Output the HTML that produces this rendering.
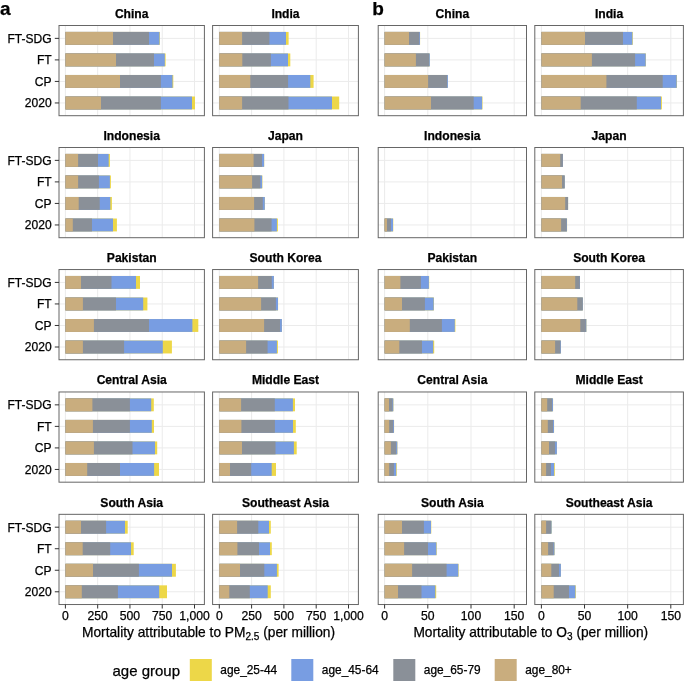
<!DOCTYPE html><html><head><meta charset="utf-8"><style>html,body{margin:0;padding:0;background:#fff;}svg{display:block;will-change:transform;}text{font-family:"Liberation Sans",sans-serif;fill:#000000;stroke:#000000;stroke-width:0.25px;}</style></head><body>
<svg width="685" height="682" viewBox="0 0 685 682">
<rect x="0" y="0" width="685" height="682" fill="#fff"/>
<path d="M65.4 25.5V115.7M97.68 25.5V115.7M129.95 25.5V115.7M162.22 25.5V115.7M194.5 25.5V115.7M59 38.37H204.4M59 59.9H204.4M59 81.43H204.4M59 102.96H204.4" stroke="#EBEBEB" stroke-width="1" fill="none"/>
<rect x="65.4" y="31.92" width="94.5" height="12.9" fill="#EDD748"/>
<rect x="65.4" y="31.92" width="94.1" height="12.9" fill="#789DE2"/>
<rect x="65.4" y="31.92" width="83.6" height="12.9" fill="#8A9098"/>
<rect x="65.4" y="31.92" width="47.6" height="12.9" fill="#C9AD7E"/>
<rect x="65.4" y="53.45" width="100.2" height="12.9" fill="#EDD748"/>
<rect x="65.4" y="53.45" width="99.4" height="12.9" fill="#789DE2"/>
<rect x="65.4" y="53.45" width="88.6" height="12.9" fill="#8A9098"/>
<rect x="65.4" y="53.45" width="50.6" height="12.9" fill="#C9AD7E"/>
<rect x="65.4" y="74.98" width="107.9" height="12.9" fill="#EDD748"/>
<rect x="65.4" y="74.98" width="107.1" height="12.9" fill="#789DE2"/>
<rect x="65.4" y="74.98" width="95.5" height="12.9" fill="#8A9098"/>
<rect x="65.4" y="74.98" width="54.6" height="12.9" fill="#C9AD7E"/>
<rect x="65.4" y="96.51" width="129.6" height="12.9" fill="#EDD748"/>
<rect x="65.4" y="96.51" width="126.6" height="12.9" fill="#789DE2"/>
<rect x="65.4" y="96.51" width="95.5" height="12.9" fill="#8A9098"/>
<rect x="65.4" y="96.51" width="35.6" height="12.9" fill="#C9AD7E"/>
<rect x="59" y="25.5" width="145.4" height="90.2" fill="none" stroke="#666666" stroke-width="1"/>
<text x="131.7" y="17.8" text-anchor="middle" font-weight="bold" stroke-width="0" font-size="12.1">China</text>
<path d="M54.8 38.37H59" stroke="#333333" stroke-width="1"/>
<text x="51.6" y="42.67" text-anchor="end" font-size="12.05">FT-SDG</text>
<path d="M54.8 59.9H59" stroke="#333333" stroke-width="1"/>
<text x="51.6" y="64.2" text-anchor="end" font-size="12.05">FT</text>
<path d="M54.8 81.43H59" stroke="#333333" stroke-width="1"/>
<text x="51.6" y="85.73" text-anchor="end" font-size="12.05">CP</text>
<path d="M54.8 102.96H59" stroke="#333333" stroke-width="1"/>
<text x="51.6" y="107.26" text-anchor="end" font-size="12.05">2020</text>
<path d="M219.3 25.5V115.7M251.6 25.5V115.7M283.9 25.5V115.7M316.2 25.5V115.7M348.5 25.5V115.7M212.6 38.37H358.4M212.6 59.9H358.4M212.6 81.43H358.4M212.6 102.96H358.4" stroke="#EBEBEB" stroke-width="1" fill="none"/>
<rect x="219.3" y="31.92" width="69.3" height="12.9" fill="#EDD748"/>
<rect x="219.3" y="31.92" width="66.7" height="12.9" fill="#789DE2"/>
<rect x="219.3" y="31.92" width="50.1" height="12.9" fill="#8A9098"/>
<rect x="219.3" y="31.92" width="22.8" height="12.9" fill="#C9AD7E"/>
<rect x="219.3" y="53.45" width="71" height="12.9" fill="#EDD748"/>
<rect x="219.3" y="53.45" width="68.7" height="12.9" fill="#789DE2"/>
<rect x="219.3" y="53.45" width="51.6" height="12.9" fill="#8A9098"/>
<rect x="219.3" y="53.45" width="23" height="12.9" fill="#C9AD7E"/>
<rect x="219.3" y="74.98" width="94.3" height="12.9" fill="#EDD748"/>
<rect x="219.3" y="74.98" width="91" height="12.9" fill="#789DE2"/>
<rect x="219.3" y="74.98" width="68.8" height="12.9" fill="#8A9098"/>
<rect x="219.3" y="74.98" width="31" height="12.9" fill="#C9AD7E"/>
<rect x="219.3" y="96.51" width="119.9" height="12.9" fill="#EDD748"/>
<rect x="219.3" y="96.51" width="112.7" height="12.9" fill="#789DE2"/>
<rect x="219.3" y="96.51" width="69.2" height="12.9" fill="#8A9098"/>
<rect x="219.3" y="96.51" width="22.8" height="12.9" fill="#C9AD7E"/>
<rect x="212.6" y="25.5" width="145.8" height="90.2" fill="none" stroke="#666666" stroke-width="1"/>
<text x="285.5" y="17.8" text-anchor="middle" font-weight="bold" stroke-width="0" font-size="12.1">India</text>
<path d="M65.4 147.5V237.7M97.68 147.5V237.7M129.95 147.5V237.7M162.22 147.5V237.7M194.5 147.5V237.7M59 160.37H204.4M59 181.9H204.4M59 203.43H204.4M59 224.96H204.4" stroke="#EBEBEB" stroke-width="1" fill="none"/>
<rect x="65.4" y="153.92" width="44.5" height="12.9" fill="#EDD748"/>
<rect x="65.4" y="153.92" width="43.3" height="12.9" fill="#789DE2"/>
<rect x="65.4" y="153.92" width="32.6" height="12.9" fill="#8A9098"/>
<rect x="65.4" y="153.92" width="12.7" height="12.9" fill="#C9AD7E"/>
<rect x="65.4" y="175.45" width="45.5" height="12.9" fill="#EDD748"/>
<rect x="65.4" y="175.45" width="44.5" height="12.9" fill="#789DE2"/>
<rect x="65.4" y="175.45" width="33.5" height="12.9" fill="#8A9098"/>
<rect x="65.4" y="175.45" width="12.7" height="12.9" fill="#C9AD7E"/>
<rect x="65.4" y="196.98" width="46.5" height="12.9" fill="#EDD748"/>
<rect x="65.4" y="196.98" width="44.9" height="12.9" fill="#789DE2"/>
<rect x="65.4" y="196.98" width="34.3" height="12.9" fill="#8A9098"/>
<rect x="65.4" y="196.98" width="13.3" height="12.9" fill="#C9AD7E"/>
<rect x="65.4" y="218.51" width="51.5" height="12.9" fill="#EDD748"/>
<rect x="65.4" y="218.51" width="47.6" height="12.9" fill="#789DE2"/>
<rect x="65.4" y="218.51" width="26.6" height="12.9" fill="#8A9098"/>
<rect x="65.4" y="218.51" width="7.4" height="12.9" fill="#C9AD7E"/>
<rect x="59" y="147.5" width="145.4" height="90.2" fill="none" stroke="#666666" stroke-width="1"/>
<text x="131.7" y="139.8" text-anchor="middle" font-weight="bold" stroke-width="0" font-size="12.1">Indonesia</text>
<path d="M54.8 160.37H59" stroke="#333333" stroke-width="1"/>
<text x="51.6" y="164.67" text-anchor="end" font-size="12.05">FT-SDG</text>
<path d="M54.8 181.9H59" stroke="#333333" stroke-width="1"/>
<text x="51.6" y="186.2" text-anchor="end" font-size="12.05">FT</text>
<path d="M54.8 203.43H59" stroke="#333333" stroke-width="1"/>
<text x="51.6" y="207.73" text-anchor="end" font-size="12.05">CP</text>
<path d="M54.8 224.96H59" stroke="#333333" stroke-width="1"/>
<text x="51.6" y="229.26" text-anchor="end" font-size="12.05">2020</text>
<path d="M219.3 147.5V237.7M251.6 147.5V237.7M283.9 147.5V237.7M316.2 147.5V237.7M348.5 147.5V237.7M212.6 160.37H358.4M212.6 181.9H358.4M212.6 203.43H358.4M212.6 224.96H358.4" stroke="#EBEBEB" stroke-width="1" fill="none"/>
<rect x="219.3" y="153.92" width="44.9" height="12.9" fill="#EDD748"/>
<rect x="219.3" y="153.92" width="44.8" height="12.9" fill="#789DE2"/>
<rect x="219.3" y="153.92" width="42.7" height="12.9" fill="#8A9098"/>
<rect x="219.3" y="153.92" width="34.3" height="12.9" fill="#C9AD7E"/>
<rect x="219.3" y="175.45" width="43.1" height="12.9" fill="#EDD748"/>
<rect x="219.3" y="175.45" width="42.8" height="12.9" fill="#789DE2"/>
<rect x="219.3" y="175.45" width="41.1" height="12.9" fill="#8A9098"/>
<rect x="219.3" y="175.45" width="32.8" height="12.9" fill="#C9AD7E"/>
<rect x="219.3" y="196.98" width="45.6" height="12.9" fill="#EDD748"/>
<rect x="219.3" y="196.98" width="45.5" height="12.9" fill="#789DE2"/>
<rect x="219.3" y="196.98" width="43.5" height="12.9" fill="#8A9098"/>
<rect x="219.3" y="196.98" width="34.8" height="12.9" fill="#C9AD7E"/>
<rect x="219.3" y="218.51" width="58.6" height="12.9" fill="#EDD748"/>
<rect x="219.3" y="218.51" width="57.6" height="12.9" fill="#789DE2"/>
<rect x="219.3" y="218.51" width="52.3" height="12.9" fill="#8A9098"/>
<rect x="219.3" y="218.51" width="35.1" height="12.9" fill="#C9AD7E"/>
<rect x="212.6" y="147.5" width="145.8" height="90.2" fill="none" stroke="#666666" stroke-width="1"/>
<text x="285.5" y="139.8" text-anchor="middle" font-weight="bold" stroke-width="0" font-size="12.1">Japan</text>
<path d="M65.4 269.55V359.75M97.68 269.55V359.75M129.95 269.55V359.75M162.22 269.55V359.75M194.5 269.55V359.75M59 282.42H204.4M59 303.95H204.4M59 325.48H204.4M59 347.01H204.4" stroke="#EBEBEB" stroke-width="1" fill="none"/>
<rect x="65.4" y="275.97" width="74.6" height="12.9" fill="#EDD748"/>
<rect x="65.4" y="275.97" width="70.6" height="12.9" fill="#789DE2"/>
<rect x="65.4" y="275.97" width="46.1" height="12.9" fill="#8A9098"/>
<rect x="65.4" y="275.97" width="15.6" height="12.9" fill="#C9AD7E"/>
<rect x="65.4" y="297.5" width="82" height="12.9" fill="#EDD748"/>
<rect x="65.4" y="297.5" width="77.8" height="12.9" fill="#789DE2"/>
<rect x="65.4" y="297.5" width="50.6" height="12.9" fill="#8A9098"/>
<rect x="65.4" y="297.5" width="17.5" height="12.9" fill="#C9AD7E"/>
<rect x="65.4" y="319.03" width="132.9" height="12.9" fill="#EDD748"/>
<rect x="65.4" y="319.03" width="127" height="12.9" fill="#789DE2"/>
<rect x="65.4" y="319.03" width="83.6" height="12.9" fill="#8A9098"/>
<rect x="65.4" y="319.03" width="28.5" height="12.9" fill="#C9AD7E"/>
<rect x="65.4" y="340.56" width="106.5" height="12.9" fill="#EDD748"/>
<rect x="65.4" y="340.56" width="97.4" height="12.9" fill="#789DE2"/>
<rect x="65.4" y="340.56" width="58.7" height="12.9" fill="#8A9098"/>
<rect x="65.4" y="340.56" width="17.5" height="12.9" fill="#C9AD7E"/>
<rect x="59" y="269.55" width="145.4" height="90.2" fill="none" stroke="#666666" stroke-width="1"/>
<text x="131.7" y="261.85" text-anchor="middle" font-weight="bold" stroke-width="0" font-size="12.1">Pakistan</text>
<path d="M54.8 282.42H59" stroke="#333333" stroke-width="1"/>
<text x="51.6" y="286.72" text-anchor="end" font-size="12.05">FT-SDG</text>
<path d="M54.8 303.95H59" stroke="#333333" stroke-width="1"/>
<text x="51.6" y="308.25" text-anchor="end" font-size="12.05">FT</text>
<path d="M54.8 325.48H59" stroke="#333333" stroke-width="1"/>
<text x="51.6" y="329.78" text-anchor="end" font-size="12.05">CP</text>
<path d="M54.8 347.01H59" stroke="#333333" stroke-width="1"/>
<text x="51.6" y="351.31" text-anchor="end" font-size="12.05">2020</text>
<path d="M219.3 269.55V359.75M251.6 269.55V359.75M283.9 269.55V359.75M316.2 269.55V359.75M348.5 269.55V359.75M212.6 282.42H358.4M212.6 303.95H358.4M212.6 325.48H358.4M212.6 347.01H358.4" stroke="#EBEBEB" stroke-width="1" fill="none"/>
<rect x="219.3" y="275.97" width="54.7" height="12.9" fill="#EDD748"/>
<rect x="219.3" y="275.97" width="54.6" height="12.9" fill="#789DE2"/>
<rect x="219.3" y="275.97" width="52.5" height="12.9" fill="#8A9098"/>
<rect x="219.3" y="275.97" width="38.8" height="12.9" fill="#C9AD7E"/>
<rect x="219.3" y="297.5" width="58.8" height="12.9" fill="#EDD748"/>
<rect x="219.3" y="297.5" width="58.7" height="12.9" fill="#789DE2"/>
<rect x="219.3" y="297.5" width="56.6" height="12.9" fill="#8A9098"/>
<rect x="219.3" y="297.5" width="41.8" height="12.9" fill="#C9AD7E"/>
<rect x="219.3" y="319.03" width="62.7" height="12.9" fill="#EDD748"/>
<rect x="219.3" y="319.03" width="62.6" height="12.9" fill="#789DE2"/>
<rect x="219.3" y="319.03" width="60.8" height="12.9" fill="#8A9098"/>
<rect x="219.3" y="319.03" width="44.8" height="12.9" fill="#C9AD7E"/>
<rect x="219.3" y="340.56" width="58.6" height="12.9" fill="#EDD748"/>
<rect x="219.3" y="340.56" width="57.6" height="12.9" fill="#789DE2"/>
<rect x="219.3" y="340.56" width="48.3" height="12.9" fill="#8A9098"/>
<rect x="219.3" y="340.56" width="26.8" height="12.9" fill="#C9AD7E"/>
<rect x="212.6" y="269.55" width="145.8" height="90.2" fill="none" stroke="#666666" stroke-width="1"/>
<text x="285.5" y="261.85" text-anchor="middle" font-weight="bold" stroke-width="0" font-size="12.1">South Korea</text>
<path d="M65.4 391.98V482.18M97.68 391.98V482.18M129.95 391.98V482.18M162.22 391.98V482.18M194.5 391.98V482.18M59 404.85H204.4M59 426.38H204.4M59 447.91H204.4M59 469.44H204.4" stroke="#EBEBEB" stroke-width="1" fill="none"/>
<rect x="65.4" y="398.4" width="88.4" height="12.9" fill="#EDD748"/>
<rect x="65.4" y="398.4" width="85.8" height="12.9" fill="#789DE2"/>
<rect x="65.4" y="398.4" width="64.5" height="12.9" fill="#8A9098"/>
<rect x="65.4" y="398.4" width="27" height="12.9" fill="#C9AD7E"/>
<rect x="65.4" y="419.93" width="88.6" height="12.9" fill="#EDD748"/>
<rect x="65.4" y="419.93" width="86.4" height="12.9" fill="#789DE2"/>
<rect x="65.4" y="419.93" width="64.5" height="12.9" fill="#8A9098"/>
<rect x="65.4" y="419.93" width="27.5" height="12.9" fill="#C9AD7E"/>
<rect x="65.4" y="441.46" width="91.8" height="12.9" fill="#EDD748"/>
<rect x="65.4" y="441.46" width="89.6" height="12.9" fill="#789DE2"/>
<rect x="65.4" y="441.46" width="67.1" height="12.9" fill="#8A9098"/>
<rect x="65.4" y="441.46" width="28.5" height="12.9" fill="#C9AD7E"/>
<rect x="65.4" y="462.99" width="93.6" height="12.9" fill="#EDD748"/>
<rect x="65.4" y="462.99" width="88.7" height="12.9" fill="#789DE2"/>
<rect x="65.4" y="462.99" width="54.6" height="12.9" fill="#8A9098"/>
<rect x="65.4" y="462.99" width="21.8" height="12.9" fill="#C9AD7E"/>
<rect x="59" y="391.98" width="145.4" height="90.2" fill="none" stroke="#666666" stroke-width="1"/>
<text x="131.7" y="384.28" text-anchor="middle" font-weight="bold" stroke-width="0" font-size="12.1">Central Asia</text>
<path d="M54.8 404.85H59" stroke="#333333" stroke-width="1"/>
<text x="51.6" y="409.15" text-anchor="end" font-size="12.05">FT-SDG</text>
<path d="M54.8 426.38H59" stroke="#333333" stroke-width="1"/>
<text x="51.6" y="430.68" text-anchor="end" font-size="12.05">FT</text>
<path d="M54.8 447.91H59" stroke="#333333" stroke-width="1"/>
<text x="51.6" y="452.21" text-anchor="end" font-size="12.05">CP</text>
<path d="M54.8 469.44H59" stroke="#333333" stroke-width="1"/>
<text x="51.6" y="473.74" text-anchor="end" font-size="12.05">2020</text>
<path d="M219.3 391.98V482.18M251.6 391.98V482.18M283.9 391.98V482.18M316.2 391.98V482.18M348.5 391.98V482.18M212.6 404.85H358.4M212.6 426.38H358.4M212.6 447.91H358.4M212.6 469.44H358.4" stroke="#EBEBEB" stroke-width="1" fill="none"/>
<rect x="219.3" y="398.4" width="75.7" height="12.9" fill="#EDD748"/>
<rect x="219.3" y="398.4" width="73.6" height="12.9" fill="#789DE2"/>
<rect x="219.3" y="398.4" width="55.5" height="12.9" fill="#8A9098"/>
<rect x="219.3" y="398.4" width="21.8" height="12.9" fill="#C9AD7E"/>
<rect x="219.3" y="419.93" width="76.5" height="12.9" fill="#EDD748"/>
<rect x="219.3" y="419.93" width="73.7" height="12.9" fill="#789DE2"/>
<rect x="219.3" y="419.93" width="55.6" height="12.9" fill="#8A9098"/>
<rect x="219.3" y="419.93" width="22.1" height="12.9" fill="#C9AD7E"/>
<rect x="219.3" y="441.46" width="77.4" height="12.9" fill="#EDD748"/>
<rect x="219.3" y="441.46" width="74.6" height="12.9" fill="#789DE2"/>
<rect x="219.3" y="441.46" width="56.2" height="12.9" fill="#8A9098"/>
<rect x="219.3" y="441.46" width="22.7" height="12.9" fill="#C9AD7E"/>
<rect x="219.3" y="462.99" width="56.7" height="12.9" fill="#EDD748"/>
<rect x="219.3" y="462.99" width="52.4" height="12.9" fill="#789DE2"/>
<rect x="219.3" y="462.99" width="31.9" height="12.9" fill="#8A9098"/>
<rect x="219.3" y="462.99" width="10.7" height="12.9" fill="#C9AD7E"/>
<rect x="212.6" y="391.98" width="145.8" height="90.2" fill="none" stroke="#666666" stroke-width="1"/>
<text x="285.5" y="384.28" text-anchor="middle" font-weight="bold" stroke-width="0" font-size="12.1">Middle East</text>
<path d="M65.4 514.33V604.53M97.68 514.33V604.53M129.95 514.33V604.53M162.22 514.33V604.53M194.5 514.33V604.53M59 527.2H204.4M59 548.73H204.4M59 570.26H204.4M59 591.79H204.4" stroke="#EBEBEB" stroke-width="1" fill="none"/>
<rect x="65.4" y="520.75" width="62.3" height="12.9" fill="#EDD748"/>
<rect x="65.4" y="520.75" width="59.6" height="12.9" fill="#789DE2"/>
<rect x="65.4" y="520.75" width="40.7" height="12.9" fill="#8A9098"/>
<rect x="65.4" y="520.75" width="15.6" height="12.9" fill="#C9AD7E"/>
<rect x="65.4" y="542.28" width="68.3" height="12.9" fill="#EDD748"/>
<rect x="65.4" y="542.28" width="65.6" height="12.9" fill="#789DE2"/>
<rect x="65.4" y="542.28" width="44.8" height="12.9" fill="#8A9098"/>
<rect x="65.4" y="542.28" width="17.3" height="12.9" fill="#C9AD7E"/>
<rect x="65.4" y="563.81" width="110.5" height="12.9" fill="#EDD748"/>
<rect x="65.4" y="563.81" width="106.6" height="12.9" fill="#789DE2"/>
<rect x="65.4" y="563.81" width="73.5" height="12.9" fill="#8A9098"/>
<rect x="65.4" y="563.81" width="27.6" height="12.9" fill="#C9AD7E"/>
<rect x="65.4" y="585.34" width="101.6" height="12.9" fill="#EDD748"/>
<rect x="65.4" y="585.34" width="93.8" height="12.9" fill="#789DE2"/>
<rect x="65.4" y="585.34" width="52.5" height="12.9" fill="#8A9098"/>
<rect x="65.4" y="585.34" width="16.4" height="12.9" fill="#C9AD7E"/>
<rect x="59" y="514.33" width="145.4" height="90.2" fill="none" stroke="#666666" stroke-width="1"/>
<text x="131.7" y="506.63" text-anchor="middle" font-weight="bold" stroke-width="0" font-size="12.1">South Asia</text>
<path d="M54.8 527.2H59" stroke="#333333" stroke-width="1"/>
<text x="51.6" y="531.5" text-anchor="end" font-size="12.05">FT-SDG</text>
<path d="M54.8 548.73H59" stroke="#333333" stroke-width="1"/>
<text x="51.6" y="553.03" text-anchor="end" font-size="12.05">FT</text>
<path d="M54.8 570.26H59" stroke="#333333" stroke-width="1"/>
<text x="51.6" y="574.56" text-anchor="end" font-size="12.05">CP</text>
<path d="M54.8 591.79H59" stroke="#333333" stroke-width="1"/>
<text x="51.6" y="596.09" text-anchor="end" font-size="12.05">2020</text>
<path d="M65.4 604.53V608.53" stroke="#333333" stroke-width="1"/>
<text x="65.4" y="620.2" text-anchor="middle" font-size="12.2">0</text>
<path d="M97.68 604.53V608.53" stroke="#333333" stroke-width="1"/>
<text x="97.68" y="620.2" text-anchor="middle" font-size="12.2">250</text>
<path d="M129.95 604.53V608.53" stroke="#333333" stroke-width="1"/>
<text x="129.95" y="620.2" text-anchor="middle" font-size="12.2">500</text>
<path d="M162.22 604.53V608.53" stroke="#333333" stroke-width="1"/>
<text x="162.22" y="620.2" text-anchor="middle" font-size="12.2">750</text>
<path d="M194.5 604.53V608.53" stroke="#333333" stroke-width="1"/>
<text x="194.5" y="620.2" text-anchor="middle" font-size="12.2">1,000</text>
<path d="M219.3 514.33V604.53M251.6 514.33V604.53M283.9 514.33V604.53M316.2 514.33V604.53M348.5 514.33V604.53M212.6 527.2H358.4M212.6 548.73H358.4M212.6 570.26H358.4M212.6 591.79H358.4" stroke="#EBEBEB" stroke-width="1" fill="none"/>
<rect x="219.3" y="520.75" width="51.5" height="12.9" fill="#EDD748"/>
<rect x="219.3" y="520.75" width="49.7" height="12.9" fill="#789DE2"/>
<rect x="219.3" y="520.75" width="39" height="12.9" fill="#8A9098"/>
<rect x="219.3" y="520.75" width="17.8" height="12.9" fill="#C9AD7E"/>
<rect x="219.3" y="542.28" width="52.5" height="12.9" fill="#EDD748"/>
<rect x="219.3" y="542.28" width="50.7" height="12.9" fill="#789DE2"/>
<rect x="219.3" y="542.28" width="39.7" height="12.9" fill="#8A9098"/>
<rect x="219.3" y="542.28" width="18.1" height="12.9" fill="#C9AD7E"/>
<rect x="219.3" y="563.81" width="59.3" height="12.9" fill="#EDD748"/>
<rect x="219.3" y="563.81" width="57.6" height="12.9" fill="#789DE2"/>
<rect x="219.3" y="563.81" width="45" height="12.9" fill="#8A9098"/>
<rect x="219.3" y="563.81" width="20.7" height="12.9" fill="#C9AD7E"/>
<rect x="219.3" y="585.34" width="51.5" height="12.9" fill="#EDD748"/>
<rect x="219.3" y="585.34" width="48.4" height="12.9" fill="#789DE2"/>
<rect x="219.3" y="585.34" width="30.5" height="12.9" fill="#8A9098"/>
<rect x="219.3" y="585.34" width="10" height="12.9" fill="#C9AD7E"/>
<rect x="212.6" y="514.33" width="145.8" height="90.2" fill="none" stroke="#666666" stroke-width="1"/>
<text x="285.5" y="506.63" text-anchor="middle" font-weight="bold" stroke-width="0" font-size="12.1">Southeast Asia</text>
<path d="M219.3 604.53V608.53" stroke="#333333" stroke-width="1"/>
<text x="219.3" y="620.2" text-anchor="middle" font-size="12.2">0</text>
<path d="M251.6 604.53V608.53" stroke="#333333" stroke-width="1"/>
<text x="251.6" y="620.2" text-anchor="middle" font-size="12.2">250</text>
<path d="M283.9 604.53V608.53" stroke="#333333" stroke-width="1"/>
<text x="283.9" y="620.2" text-anchor="middle" font-size="12.2">500</text>
<path d="M316.2 604.53V608.53" stroke="#333333" stroke-width="1"/>
<text x="316.2" y="620.2" text-anchor="middle" font-size="12.2">750</text>
<path d="M348.5 604.53V608.53" stroke="#333333" stroke-width="1"/>
<text x="348.5" y="620.2" text-anchor="middle" font-size="12.2">1,000</text>
<path d="M384.6 25.5V115.7M427.8 25.5V115.7M471 25.5V115.7M514.2 25.5V115.7M378.2 38.37H526.5M378.2 59.9H526.5M378.2 81.43H526.5M378.2 102.96H526.5" stroke="#EBEBEB" stroke-width="1" fill="none"/>
<rect x="384.6" y="31.92" width="35.5" height="12.9" fill="#EDD748"/>
<rect x="384.6" y="31.92" width="35.4" height="12.9" fill="#789DE2"/>
<rect x="384.6" y="31.92" width="34.8" height="12.9" fill="#8A9098"/>
<rect x="384.6" y="31.92" width="24.4" height="12.9" fill="#C9AD7E"/>
<rect x="384.6" y="53.45" width="45.3" height="12.9" fill="#EDD748"/>
<rect x="384.6" y="53.45" width="45.2" height="12.9" fill="#789DE2"/>
<rect x="384.6" y="53.45" width="44.4" height="12.9" fill="#8A9098"/>
<rect x="384.6" y="53.45" width="31.3" height="12.9" fill="#C9AD7E"/>
<rect x="384.6" y="74.98" width="63.4" height="12.9" fill="#EDD748"/>
<rect x="384.6" y="74.98" width="63.3" height="12.9" fill="#789DE2"/>
<rect x="384.6" y="74.98" width="62.4" height="12.9" fill="#8A9098"/>
<rect x="384.6" y="74.98" width="43.5" height="12.9" fill="#C9AD7E"/>
<rect x="384.6" y="96.51" width="97.9" height="12.9" fill="#EDD748"/>
<rect x="384.6" y="96.51" width="97.5" height="12.9" fill="#789DE2"/>
<rect x="384.6" y="96.51" width="89.1" height="12.9" fill="#8A9098"/>
<rect x="384.6" y="96.51" width="46.4" height="12.9" fill="#C9AD7E"/>
<rect x="378.2" y="25.5" width="148.3" height="90.2" fill="none" stroke="#666666" stroke-width="1"/>
<text x="452.35" y="17.8" text-anchor="middle" font-weight="bold" stroke-width="0" font-size="12.1">China</text>
<path d="M541.4 25.5V115.7M584.53 25.5V115.7M627.67 25.5V115.7M670.8 25.5V115.7M534.8 38.37H683.4M534.8 59.9H683.4M534.8 81.43H683.4M534.8 102.96H683.4" stroke="#EBEBEB" stroke-width="1" fill="none"/>
<rect x="541.4" y="31.92" width="91.4" height="12.9" fill="#EDD748"/>
<rect x="541.4" y="31.92" width="91" height="12.9" fill="#789DE2"/>
<rect x="541.4" y="31.92" width="81.6" height="12.9" fill="#8A9098"/>
<rect x="541.4" y="31.92" width="43.6" height="12.9" fill="#C9AD7E"/>
<rect x="541.4" y="53.45" width="104.5" height="12.9" fill="#EDD748"/>
<rect x="541.4" y="53.45" width="104.3" height="12.9" fill="#789DE2"/>
<rect x="541.4" y="53.45" width="93.7" height="12.9" fill="#8A9098"/>
<rect x="541.4" y="53.45" width="50.5" height="12.9" fill="#C9AD7E"/>
<rect x="541.4" y="74.98" width="135.6" height="12.9" fill="#EDD748"/>
<rect x="541.4" y="74.98" width="135.3" height="12.9" fill="#789DE2"/>
<rect x="541.4" y="74.98" width="121.3" height="12.9" fill="#8A9098"/>
<rect x="541.4" y="74.98" width="65" height="12.9" fill="#C9AD7E"/>
<rect x="541.4" y="96.51" width="120.5" height="12.9" fill="#EDD748"/>
<rect x="541.4" y="96.51" width="119.6" height="12.9" fill="#789DE2"/>
<rect x="541.4" y="96.51" width="95.4" height="12.9" fill="#8A9098"/>
<rect x="541.4" y="96.51" width="39.3" height="12.9" fill="#C9AD7E"/>
<rect x="534.8" y="25.5" width="148.6" height="90.2" fill="none" stroke="#666666" stroke-width="1"/>
<text x="609.1" y="17.8" text-anchor="middle" font-weight="bold" stroke-width="0" font-size="12.1">India</text>
<path d="M384.6 147.5V237.7M427.8 147.5V237.7M471 147.5V237.7M514.2 147.5V237.7M378.2 160.37H526.5M378.2 181.9H526.5M378.2 203.43H526.5M378.2 224.96H526.5" stroke="#EBEBEB" stroke-width="1" fill="none"/>
<rect x="384.6" y="218.51" width="8.7" height="12.9" fill="#EDD748"/>
<rect x="384.6" y="218.51" width="8.4" height="12.9" fill="#789DE2"/>
<rect x="384.6" y="218.51" width="6.3" height="12.9" fill="#8A9098"/>
<rect x="384.6" y="218.51" width="2.4" height="12.9" fill="#C9AD7E"/>
<rect x="378.2" y="147.5" width="148.3" height="90.2" fill="none" stroke="#666666" stroke-width="1"/>
<text x="452.35" y="139.8" text-anchor="middle" font-weight="bold" stroke-width="0" font-size="12.1">Indonesia</text>
<path d="M541.4 147.5V237.7M584.53 147.5V237.7M627.67 147.5V237.7M670.8 147.5V237.7M534.8 160.37H683.4M534.8 181.9H683.4M534.8 203.43H683.4M534.8 224.96H683.4" stroke="#EBEBEB" stroke-width="1" fill="none"/>
<rect x="541.4" y="153.92" width="21.5" height="12.9" fill="#EDD748"/>
<rect x="541.4" y="153.92" width="21.5" height="12.9" fill="#789DE2"/>
<rect x="541.4" y="153.92" width="21.4" height="12.9" fill="#8A9098"/>
<rect x="541.4" y="153.92" width="18.8" height="12.9" fill="#C9AD7E"/>
<rect x="541.4" y="175.45" width="23.3" height="12.9" fill="#EDD748"/>
<rect x="541.4" y="175.45" width="23.3" height="12.9" fill="#789DE2"/>
<rect x="541.4" y="175.45" width="23.2" height="12.9" fill="#8A9098"/>
<rect x="541.4" y="175.45" width="20.6" height="12.9" fill="#C9AD7E"/>
<rect x="541.4" y="196.98" width="26.7" height="12.9" fill="#EDD748"/>
<rect x="541.4" y="196.98" width="26.7" height="12.9" fill="#789DE2"/>
<rect x="541.4" y="196.98" width="26.6" height="12.9" fill="#8A9098"/>
<rect x="541.4" y="196.98" width="23.8" height="12.9" fill="#C9AD7E"/>
<rect x="541.4" y="218.51" width="25.7" height="12.9" fill="#EDD748"/>
<rect x="541.4" y="218.51" width="25.6" height="12.9" fill="#789DE2"/>
<rect x="541.4" y="218.51" width="25.3" height="12.9" fill="#8A9098"/>
<rect x="541.4" y="218.51" width="19.7" height="12.9" fill="#C9AD7E"/>
<rect x="534.8" y="147.5" width="148.6" height="90.2" fill="none" stroke="#666666" stroke-width="1"/>
<text x="609.1" y="139.8" text-anchor="middle" font-weight="bold" stroke-width="0" font-size="12.1">Japan</text>
<path d="M384.6 269.55V359.75M427.8 269.55V359.75M471 269.55V359.75M514.2 269.55V359.75M378.2 282.42H526.5M378.2 303.95H526.5M378.2 325.48H526.5M378.2 347.01H526.5" stroke="#EBEBEB" stroke-width="1" fill="none"/>
<rect x="384.6" y="275.97" width="44.6" height="12.9" fill="#EDD748"/>
<rect x="384.6" y="275.97" width="44.3" height="12.9" fill="#789DE2"/>
<rect x="384.6" y="275.97" width="36.3" height="12.9" fill="#8A9098"/>
<rect x="384.6" y="275.97" width="15.8" height="12.9" fill="#C9AD7E"/>
<rect x="384.6" y="297.5" width="49.4" height="12.9" fill="#EDD748"/>
<rect x="384.6" y="297.5" width="49.1" height="12.9" fill="#789DE2"/>
<rect x="384.6" y="297.5" width="40.3" height="12.9" fill="#8A9098"/>
<rect x="384.6" y="297.5" width="17.4" height="12.9" fill="#C9AD7E"/>
<rect x="384.6" y="319.03" width="70.8" height="12.9" fill="#EDD748"/>
<rect x="384.6" y="319.03" width="70.2" height="12.9" fill="#789DE2"/>
<rect x="384.6" y="319.03" width="57.3" height="12.9" fill="#8A9098"/>
<rect x="384.6" y="319.03" width="25.2" height="12.9" fill="#C9AD7E"/>
<rect x="384.6" y="340.56" width="49.6" height="12.9" fill="#EDD748"/>
<rect x="384.6" y="340.56" width="48.6" height="12.9" fill="#789DE2"/>
<rect x="384.6" y="340.56" width="37.4" height="12.9" fill="#8A9098"/>
<rect x="384.6" y="340.56" width="14.7" height="12.9" fill="#C9AD7E"/>
<rect x="378.2" y="269.55" width="148.3" height="90.2" fill="none" stroke="#666666" stroke-width="1"/>
<text x="452.35" y="261.85" text-anchor="middle" font-weight="bold" stroke-width="0" font-size="12.1">Pakistan</text>
<path d="M541.4 269.55V359.75M584.53 269.55V359.75M627.67 269.55V359.75M670.8 269.55V359.75M534.8 282.42H683.4M534.8 303.95H683.4M534.8 325.48H683.4M534.8 347.01H683.4" stroke="#EBEBEB" stroke-width="1" fill="none"/>
<rect x="541.4" y="275.97" width="38.6" height="12.9" fill="#EDD748"/>
<rect x="541.4" y="275.97" width="38.6" height="12.9" fill="#789DE2"/>
<rect x="541.4" y="275.97" width="38.4" height="12.9" fill="#8A9098"/>
<rect x="541.4" y="275.97" width="33.8" height="12.9" fill="#C9AD7E"/>
<rect x="541.4" y="297.5" width="41.4" height="12.9" fill="#EDD748"/>
<rect x="541.4" y="297.5" width="41.4" height="12.9" fill="#789DE2"/>
<rect x="541.4" y="297.5" width="41.3" height="12.9" fill="#8A9098"/>
<rect x="541.4" y="297.5" width="35.9" height="12.9" fill="#C9AD7E"/>
<rect x="541.4" y="319.03" width="45" height="12.9" fill="#EDD748"/>
<rect x="541.4" y="319.03" width="45" height="12.9" fill="#789DE2"/>
<rect x="541.4" y="319.03" width="44.4" height="12.9" fill="#8A9098"/>
<rect x="541.4" y="319.03" width="38.9" height="12.9" fill="#C9AD7E"/>
<rect x="541.4" y="340.56" width="19.5" height="12.9" fill="#EDD748"/>
<rect x="541.4" y="340.56" width="19.5" height="12.9" fill="#789DE2"/>
<rect x="541.4" y="340.56" width="19" height="12.9" fill="#8A9098"/>
<rect x="541.4" y="340.56" width="13.7" height="12.9" fill="#C9AD7E"/>
<rect x="534.8" y="269.55" width="148.6" height="90.2" fill="none" stroke="#666666" stroke-width="1"/>
<text x="609.1" y="261.85" text-anchor="middle" font-weight="bold" stroke-width="0" font-size="12.1">South Korea</text>
<path d="M384.6 391.98V482.18M427.8 391.98V482.18M471 391.98V482.18M514.2 391.98V482.18M378.2 404.85H526.5M378.2 426.38H526.5M378.2 447.91H526.5M378.2 469.44H526.5" stroke="#EBEBEB" stroke-width="1" fill="none"/>
<rect x="384.6" y="398.4" width="8.8" height="12.9" fill="#EDD748"/>
<rect x="384.6" y="398.4" width="8.7" height="12.9" fill="#789DE2"/>
<rect x="384.6" y="398.4" width="7.9" height="12.9" fill="#8A9098"/>
<rect x="384.6" y="398.4" width="4.4" height="12.9" fill="#C9AD7E"/>
<rect x="384.6" y="419.93" width="9.5" height="12.9" fill="#EDD748"/>
<rect x="384.6" y="419.93" width="9.4" height="12.9" fill="#789DE2"/>
<rect x="384.6" y="419.93" width="8.7" height="12.9" fill="#8A9098"/>
<rect x="384.6" y="419.93" width="4.6" height="12.9" fill="#C9AD7E"/>
<rect x="384.6" y="441.46" width="12.8" height="12.9" fill="#EDD748"/>
<rect x="384.6" y="441.46" width="12.7" height="12.9" fill="#789DE2"/>
<rect x="384.6" y="441.46" width="11.6" height="12.9" fill="#8A9098"/>
<rect x="384.6" y="441.46" width="6.3" height="12.9" fill="#C9AD7E"/>
<rect x="384.6" y="462.99" width="12.1" height="12.9" fill="#EDD748"/>
<rect x="384.6" y="462.99" width="11.6" height="12.9" fill="#789DE2"/>
<rect x="384.6" y="462.99" width="9.3" height="12.9" fill="#8A9098"/>
<rect x="384.6" y="462.99" width="4.6" height="12.9" fill="#C9AD7E"/>
<rect x="378.2" y="391.98" width="148.3" height="90.2" fill="none" stroke="#666666" stroke-width="1"/>
<text x="452.35" y="384.28" text-anchor="middle" font-weight="bold" stroke-width="0" font-size="12.1">Central Asia</text>
<path d="M541.4 391.98V482.18M584.53 391.98V482.18M627.67 391.98V482.18M670.8 391.98V482.18M534.8 404.85H683.4M534.8 426.38H683.4M534.8 447.91H683.4M534.8 469.44H683.4" stroke="#EBEBEB" stroke-width="1" fill="none"/>
<rect x="541.4" y="398.4" width="11.7" height="12.9" fill="#EDD748"/>
<rect x="541.4" y="398.4" width="11.6" height="12.9" fill="#789DE2"/>
<rect x="541.4" y="398.4" width="10.8" height="12.9" fill="#8A9098"/>
<rect x="541.4" y="398.4" width="5.8" height="12.9" fill="#C9AD7E"/>
<rect x="541.4" y="419.93" width="12.7" height="12.9" fill="#EDD748"/>
<rect x="541.4" y="419.93" width="12.6" height="12.9" fill="#789DE2"/>
<rect x="541.4" y="419.93" width="11.7" height="12.9" fill="#8A9098"/>
<rect x="541.4" y="419.93" width="6.4" height="12.9" fill="#C9AD7E"/>
<rect x="541.4" y="441.46" width="15.6" height="12.9" fill="#EDD748"/>
<rect x="541.4" y="441.46" width="15.5" height="12.9" fill="#789DE2"/>
<rect x="541.4" y="441.46" width="13.7" height="12.9" fill="#8A9098"/>
<rect x="541.4" y="441.46" width="7.6" height="12.9" fill="#C9AD7E"/>
<rect x="541.4" y="462.99" width="13.4" height="12.9" fill="#EDD748"/>
<rect x="541.4" y="462.99" width="12.7" height="12.9" fill="#789DE2"/>
<rect x="541.4" y="462.99" width="9.6" height="12.9" fill="#8A9098"/>
<rect x="541.4" y="462.99" width="4.7" height="12.9" fill="#C9AD7E"/>
<rect x="534.8" y="391.98" width="148.6" height="90.2" fill="none" stroke="#666666" stroke-width="1"/>
<text x="609.1" y="384.28" text-anchor="middle" font-weight="bold" stroke-width="0" font-size="12.1">Middle East</text>
<path d="M384.6 514.33V604.53M427.8 514.33V604.53M471 514.33V604.53M514.2 514.33V604.53M378.2 527.2H526.5M378.2 548.73H526.5M378.2 570.26H526.5M378.2 591.79H526.5" stroke="#EBEBEB" stroke-width="1" fill="none"/>
<rect x="384.6" y="520.75" width="46.7" height="12.9" fill="#EDD748"/>
<rect x="384.6" y="520.75" width="46.4" height="12.9" fill="#789DE2"/>
<rect x="384.6" y="520.75" width="39.3" height="12.9" fill="#8A9098"/>
<rect x="384.6" y="520.75" width="17.4" height="12.9" fill="#C9AD7E"/>
<rect x="384.6" y="542.28" width="52.1" height="12.9" fill="#EDD748"/>
<rect x="384.6" y="542.28" width="51.8" height="12.9" fill="#789DE2"/>
<rect x="384.6" y="542.28" width="43.4" height="12.9" fill="#8A9098"/>
<rect x="384.6" y="542.28" width="19.5" height="12.9" fill="#C9AD7E"/>
<rect x="384.6" y="563.81" width="74" height="12.9" fill="#EDD748"/>
<rect x="384.6" y="563.81" width="73.7" height="12.9" fill="#789DE2"/>
<rect x="384.6" y="563.81" width="62" height="12.9" fill="#8A9098"/>
<rect x="384.6" y="563.81" width="27.5" height="12.9" fill="#C9AD7E"/>
<rect x="384.6" y="585.34" width="51.6" height="12.9" fill="#EDD748"/>
<rect x="384.6" y="585.34" width="50.7" height="12.9" fill="#789DE2"/>
<rect x="384.6" y="585.34" width="36.9" height="12.9" fill="#8A9098"/>
<rect x="384.6" y="585.34" width="13.4" height="12.9" fill="#C9AD7E"/>
<rect x="378.2" y="514.33" width="148.3" height="90.2" fill="none" stroke="#666666" stroke-width="1"/>
<text x="452.35" y="506.63" text-anchor="middle" font-weight="bold" stroke-width="0" font-size="12.1">South Asia</text>
<path d="M384.6 604.53V608.53" stroke="#333333" stroke-width="1"/>
<text x="384.6" y="620.2" text-anchor="middle" font-size="12.2">0</text>
<path d="M427.8 604.53V608.53" stroke="#333333" stroke-width="1"/>
<text x="427.8" y="620.2" text-anchor="middle" font-size="12.2">50</text>
<path d="M471 604.53V608.53" stroke="#333333" stroke-width="1"/>
<text x="471" y="620.2" text-anchor="middle" font-size="12.2">100</text>
<path d="M514.2 604.53V608.53" stroke="#333333" stroke-width="1"/>
<text x="514.2" y="620.2" text-anchor="middle" font-size="12.2">150</text>
<path d="M541.4 514.33V604.53M584.53 514.33V604.53M627.67 514.33V604.53M670.8 514.33V604.53M534.8 527.2H683.4M534.8 548.73H683.4M534.8 570.26H683.4M534.8 591.79H683.4" stroke="#EBEBEB" stroke-width="1" fill="none"/>
<rect x="541.4" y="520.75" width="10.3" height="12.9" fill="#EDD748"/>
<rect x="541.4" y="520.75" width="10.2" height="12.9" fill="#789DE2"/>
<rect x="541.4" y="520.75" width="9.5" height="12.9" fill="#8A9098"/>
<rect x="541.4" y="520.75" width="4.7" height="12.9" fill="#C9AD7E"/>
<rect x="541.4" y="542.28" width="13.2" height="12.9" fill="#EDD748"/>
<rect x="541.4" y="542.28" width="13.1" height="12.9" fill="#789DE2"/>
<rect x="541.4" y="542.28" width="12.1" height="12.9" fill="#8A9098"/>
<rect x="541.4" y="542.28" width="6.7" height="12.9" fill="#C9AD7E"/>
<rect x="541.4" y="563.81" width="19.6" height="12.9" fill="#EDD748"/>
<rect x="541.4" y="563.81" width="19.5" height="12.9" fill="#789DE2"/>
<rect x="541.4" y="563.81" width="17.7" height="12.9" fill="#8A9098"/>
<rect x="541.4" y="563.81" width="9.9" height="12.9" fill="#C9AD7E"/>
<rect x="541.4" y="585.34" width="34.4" height="12.9" fill="#EDD748"/>
<rect x="541.4" y="585.34" width="34" height="12.9" fill="#789DE2"/>
<rect x="541.4" y="585.34" width="27.6" height="12.9" fill="#8A9098"/>
<rect x="541.4" y="585.34" width="12.3" height="12.9" fill="#C9AD7E"/>
<rect x="534.8" y="514.33" width="148.6" height="90.2" fill="none" stroke="#666666" stroke-width="1"/>
<text x="609.1" y="506.63" text-anchor="middle" font-weight="bold" stroke-width="0" font-size="12.1">Southeast Asia</text>
<path d="M541.4 604.53V608.53" stroke="#333333" stroke-width="1"/>
<text x="541.4" y="620.2" text-anchor="middle" font-size="12.2">0</text>
<path d="M584.53 604.53V608.53" stroke="#333333" stroke-width="1"/>
<text x="584.53" y="620.2" text-anchor="middle" font-size="12.2">50</text>
<path d="M627.67 604.53V608.53" stroke="#333333" stroke-width="1"/>
<text x="627.67" y="620.2" text-anchor="middle" font-size="12.2">100</text>
<path d="M670.8 604.53V608.53" stroke="#333333" stroke-width="1"/>
<text x="670.8" y="620.2" text-anchor="middle" font-size="12.2">150</text>
<text x="208.5" y="636.9" text-anchor="middle" font-size="13.75">Mortality attributable to PM<tspan font-size="10" dy="3">2.5</tspan><tspan dy="-3"> (per million)</tspan></text>
<text x="530.8" y="636.9" text-anchor="middle" font-size="13.75">Mortality attributable to O<tspan font-size="10" dy="3">3</tspan><tspan dy="-3"> (per million)</tspan></text>
<text x="0" y="14.6" font-weight="bold" stroke-width="0" font-size="19">a</text>
<text x="372.3" y="14.6" font-weight="bold" stroke-width="0" font-size="19">b</text>
<text x="112.5" y="675.5" font-size="15">age group</text>
<rect x="189.8" y="659" width="22" height="22" fill="#EDD748"/>
<text x="220.3" y="674.2" font-size="11.9">age_25-44</text>
<rect x="291.3" y="659" width="22" height="22" fill="#789DE2"/>
<text x="321.8" y="674.2" font-size="11.9">age_45-64</text>
<rect x="393.3" y="659" width="22" height="22" fill="#8A9098"/>
<text x="423.8" y="674.2" font-size="11.9">age_65-79</text>
<rect x="494.7" y="659" width="22" height="22" fill="#C9AD7E"/>
<text x="525.2" y="674.2" font-size="11.9">age_80+</text>
</svg></body></html>
